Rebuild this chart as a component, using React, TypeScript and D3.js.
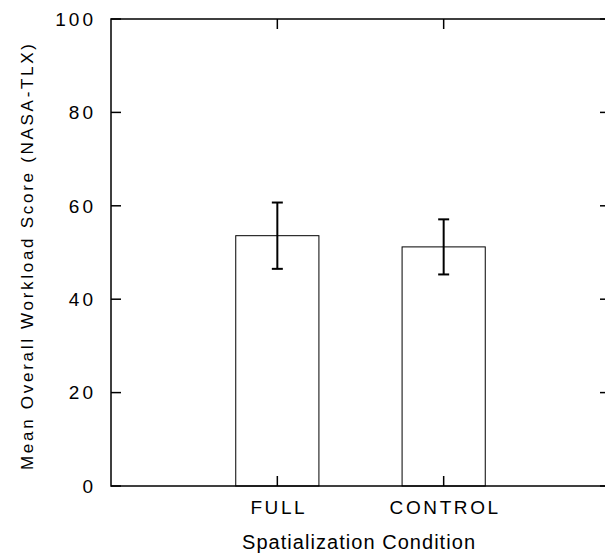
import React, { useRef, useEffect } from 'react';
import * as d3 from 'd3';

const conditions = ['FULL', 'CONTROL'];
const meanScores = [53.6, 51.2];
const errorSizes = [7.1, 5.9];
const yTickValues = [0, 20, 40, 60, 80, 100];

const FONT = '"Liberation Sans", Arial, sans-serif';

const App = () => {
    const svgRef = useRef<SVGSVGElement>(null);

    useEffect(() => {
        drawChart();
    }, []);

    const drawChart = () => {
        const svg = d3.select(svgRef.current);
        svg.selectAll('*').remove();

        const plot = { left: 111, right: 610, top: 19, bottom: 486 };
        const tickLen = 10;

        const x = d3.scalePoint()
            .domain(conditions)
            .range([plot.left, plot.right])
            .padding(1);

        const y = d3.scaleLinear()
            .domain([0, 100])
            .range([plot.bottom, plot.top]);

        const barWidth = x.step() / 2;

        const data = conditions.map((c, i) => ({ cond: c, mean: meanScores[i], err: errorSizes[i] }));

        // bars
        svg.append('g')
            .selectAll('rect')
            .data(data)
            .enter().append('rect')
            .attr('x', d => x(d.cond) - barWidth / 2)
            .attr('y', d => y(d.mean))
            .attr('width', barWidth)
            .attr('height', d => y(0) - y(d.mean))
            .attr('fill', 'white')
            .attr('stroke', 'black')
            .attr('stroke-width', 1);

        // error bars
        const eb = svg.append('g')
            .attr('stroke', 'black')
            .attr('stroke-width', 2);
        data.forEach(d => {
            const cx = x(d.cond);
            eb.append('line')
                .attr('x1', cx).attr('x2', cx)
                .attr('y1', y(d.mean + d.err)).attr('y2', y(d.mean - d.err));
            [d.mean + d.err, d.mean - d.err].forEach(v => {
                eb.append('line')
                    .attr('x1', cx - 5.5).attr('x2', cx + 5.5)
                    .attr('y1', y(v)).attr('y2', y(v));
            });
        });

        // frame
        svg.append('rect')
            .attr('x', plot.left)
            .attr('y', plot.top)
            .attr('width', plot.right - plot.left)
            .attr('height', plot.bottom - plot.top)
            .attr('fill', 'none')
            .attr('stroke', 'black')
            .attr('stroke-width', 1.5);

        // inward ticks on all four sides
        const ticks = svg.append('g').attr('stroke', 'black').attr('stroke-width', 1.5);
        yTickValues.forEach(v => {
            ticks.append('line')
                .attr('x1', plot.left).attr('x2', plot.left + tickLen)
                .attr('y1', y(v)).attr('y2', y(v));
            ticks.append('line')
                .attr('x1', plot.right).attr('x2', plot.right - tickLen)
                .attr('y1', y(v)).attr('y2', y(v));
        });
        conditions.forEach(c => {
            ticks.append('line')
                .attr('x1', x(c)).attr('x2', x(c))
                .attr('y1', plot.bottom).attr('y2', plot.bottom - tickLen);
            ticks.append('line')
                .attr('x1', x(c)).attr('x2', x(c))
                .attr('y1', plot.top).attr('y2', plot.top + tickLen);
        });

        // y tick labels
        svg.append('g')
            .selectAll('text')
            .data(yTickValues)
            .enter().append('text')
            .attr('x', 93 + 3)
            .attr('y', d => y(d))
            .attr('dy', '0.36em')
            .attr('text-anchor', 'end')
            .style('font-family', FONT)
            .style('font-size', '19px')
            .style('letter-spacing', '3px')
            .text(d => d);

        // x tick labels
        svg.append('g')
            .selectAll('text')
            .data(conditions)
            .enter().append('text')
            .attr('x', d => x(d) + 1.5)
            .attr('y', 514)
            .attr('text-anchor', 'middle')
            .style('font-family', FONT)
            .style('font-size', '19px')
            .style('letter-spacing', '2.6px')
            .text(d => d);

        // axis titles
        svg.append('text')
            .attr('x', 358.5)
            .attr('y', 549)
            .attr('text-anchor', 'middle')
            .attr('textLength', 233)
            .attr('lengthAdjust', 'spacing')
            .style('font-family', FONT)
            .style('font-size', '20px')
            .text('Spatialization Condition');

        svg.append('text')
            .attr('transform', 'translate(33,257) rotate(-90)')
            .attr('text-anchor', 'middle')
            .attr('textLength', 426)
            .attr('lengthAdjust', 'spacing')
            .style('font-family', FONT)
            .style('font-size', '17px')
            .text('Mean Overall Workload Score (NASA-TLX)');
    };

    return (
        <svg ref={svgRef} width={605} height={560}
            style={{ position: 'absolute', left: 0, top: 0, background: 'white' }}></svg>
    );
};

export default App;
